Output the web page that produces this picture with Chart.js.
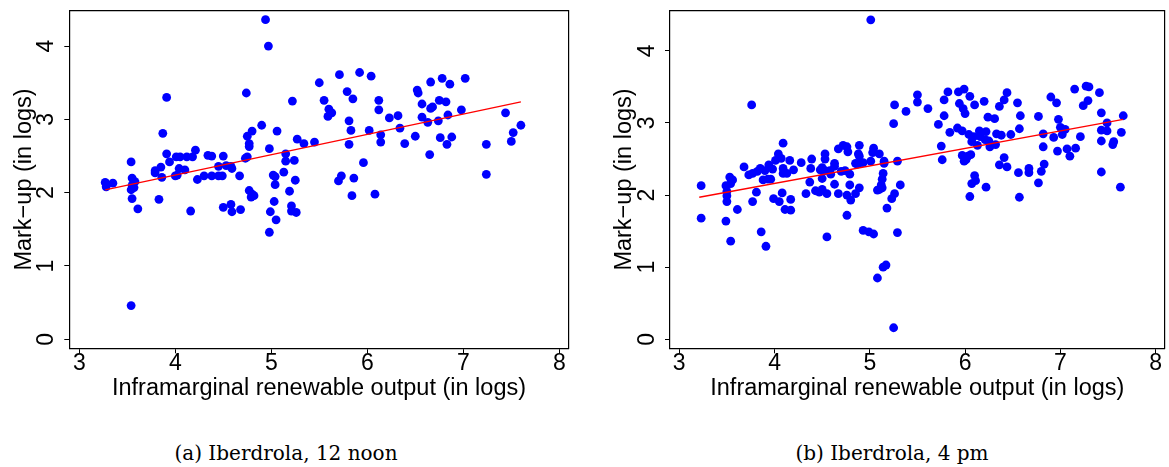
<!DOCTYPE html>
<html lang="en">
<head>
  <meta charset="UTF-8" />
  <title>Iberdrola mark-up vs inframarginal renewable output</title>
  <script src="https://cdn.jsdelivr.net/npm/chart.js"></script>
  <style>
    body { margin: 0; background: #fff; width: 1169px; height: 467px; position: relative; overflow: hidden; }
    .panel { position: absolute; top: 0; }
    .caption { position: absolute; top: 441px; width: 400px; line-height: 24px; text-align: center;
               font-family: "DejaVu Serif", serif; font-size: 20px; color: #000; }
  </style>
</head>
<body>
  <canvas id="noonChart" class="panel" style="left:0px" width="585" height="420"></canvas>
  <canvas id="pmChart" class="panel" style="left:600px" width="569" height="420"></canvas>
  <div class="caption" style="left:86px">(a) Iberdrola, 12 noon</div>
  <div class="caption" style="left:692px">(b) Iberdrola, 4 pm</div>

  <script>
    // (a) 12 noon
    const noonX = [4.94, 4.97, 5.50, 3.91, 4.74, 5.22, 4.90, 4.80, 5.06, 4.75, 3.87, 5.27, 5.34, 5.45, 4.77, 4.77,
      4.98, 4.21, 3.91, 4.01, 4.05, 4.12, 4.18, 4.34, 4.38, 4.50, 4.75, 4.73, 5.15, 5.15, 5.24, 3.54, 3.94, 3.85,
      3.79, 3.79, 4.04, 4.10, 4.45, 4.53, 4.59, 4.58, 3.86, 4.00, 4.02, 4.23, 4.30, 4.38, 4.45, 4.49, 4.67, 5.02,
      5.04, 5.13, 5.25, 5.04, 5.19, 3.27, 3.35, 3.28, 3.55, 3.58, 3.55, 3.54, 3.57, 3.55, 3.61, 3.83, 4.16, 4.50,
      4.58, 4.59, 4.68, 4.77, 4.80, 4.82, 4.79, 5.03, 4.99, 5.05, 4.98, 5.21, 5.21, 5.26, 3.54, 5.71, 5.92, 6.04,
      5.79, 5.85, 5.55, 5.60, 5.63, 5.59, 6.12, 6.12, 5.81, 5.83, 5.81, 6.02, 6.14, 6.14, 6.23, 6.32, 6.34, 6.39,
      6.50, 6.52, 6.53, 6.66, 6.78, 6.86, 7.02, 6.57, 6.66, 6.68, 6.75, 6.82, 6.57, 6.63, 6.74, 6.84, 6.98, 6.76,
      6.83, 6.88, 6.65, 5.96, 5.73, 5.70, 5.86, 5.84, 6.08, 7.24, 7.24, 7.44, 7.50, 7.52, 7.60];
    const noonY = [4.36, 4.00, 3.50, 3.30, 3.36, 3.25, 2.92, 2.84, 2.84, 2.77, 2.81, 2.73, 2.67, 2.69, 2.67, 2.63,
      2.60, 2.58, 2.53, 2.49, 2.49, 2.49, 2.49, 2.51, 2.50, 2.50, 2.49, 2.47, 2.53, 2.43, 2.44, 2.42, 2.42, 2.35,
      2.30, 2.27, 2.33, 2.31, 2.36, 2.37, 2.33, 2.36, 2.21, 2.23, 2.24, 2.18, 2.23, 2.23, 2.23, 2.23, 2.23, 2.24,
      2.22, 2.28, 2.17, 2.11, 2.02, 2.14, 2.13, 2.08, 2.20, 2.15, 2.10, 2.04, 2.07, 1.92, 1.78, 1.91, 1.75, 1.80,
      1.84, 1.74, 1.77, 2.03, 1.98, 1.96, 1.94, 1.88, 1.74, 1.63, 1.46, 1.82, 1.75, 1.73, 0.46, 3.61, 3.64, 3.59,
      3.38, 3.28, 3.26, 3.14, 3.09, 3.04, 3.26, 3.13, 2.98, 2.85, 2.66, 2.85, 2.79, 2.69, 3.02, 3.05, 2.88, 2.67,
      2.77, 3.40, 3.36, 3.51, 3.56, 3.48, 3.56, 3.21, 3.15, 3.17, 3.26, 3.24, 3.03, 2.96, 2.98, 3.06, 3.13, 2.75,
      2.66, 2.76, 2.52, 2.41, 2.23, 2.16, 2.20, 1.96, 1.98, 2.66, 2.25, 3.09, 2.70, 2.82, 2.92];
    const noonFitX = [3.27, 7.60];
    const noonFitY = [2.04, 3.24];

    // (b) 4 pm
    const pmX = [5.01, 3.76, 5.26, 5.38, 5.25, 5.50, 5.50, 4.09, 4.04, 4.07, 4.01, 4.16, 4.28, 4.39, 4.53, 4.53,
      4.67, 4.72, 4.76, 4.77, 4.89, 4.88, 4.89, 5.04, 5.03, 5.10, 4.85, 4.90, 4.87, 4.93, 5.01, 5.15, 5.15, 5.29,
      3.68, 3.73, 3.77, 3.82, 3.85, 3.90, 3.94, 3.98, 3.88, 3.93, 3.96, 4.09, 4.09, 4.13, 4.20, 4.38, 4.48, 4.50,
      4.53, 4.59, 4.58, 4.63, 4.63, 4.50, 4.70, 4.74, 4.79, 4.37, 4.63, 4.79, 4.89, 5.14, 5.13, 5.12, 5.13, 5.10,
      5.08, 5.32, 3.23, 3.53, 3.56, 3.54, 3.49, 3.50, 3.50, 3.81, 4.08, 4.33, 4.43, 4.47, 4.50, 4.55, 4.67, 4.76,
      4.85, 5.26, 5.23, 3.50, 3.77, 3.99, 3.61, 4.05, 4.11, 4.17, 4.17, 4.80, 4.76, 4.93, 4.99, 5.04, 4.55, 3.86,
      3.54, 3.23, 3.49, 3.91, 5.18, 5.29, 5.17, 5.14, 5.08, 5.25, 5.82, 5.78, 5.93, 5.99, 6.05, 5.94, 5.98, 6.00,
      6.10, 6.20, 6.44, 6.41, 6.36, 6.55, 5.61, 5.78, 5.72, 5.84, 5.92, 5.97, 6.04, 6.09, 6.15, 6.22, 6.16, 6.21,
      6.25, 6.26, 6.33, 6.38, 6.32, 6.07, 6.13, 6.06, 5.75, 5.76, 5.97, 6.03, 5.99, 6.01, 6.24, 6.31, 6.58, 6.48,
      6.57, 6.41, 6.36, 6.44, 6.56, 6.67, 6.67, 6.77, 6.90, 6.96, 7.15, 7.27, 7.30, 7.41, 7.29, 7.24, 7.43, 7.66,
      6.98, 7.00, 7.05, 6.82, 6.93, 7.02, 7.21, 6.82, 6.97, 7.07, 7.10, 7.16, 7.43, 7.49, 7.49, 7.43, 7.56, 7.55,
      7.64, 6.83, 6.80, 6.77, 7.43, 7.63, 6.10, 6.07, 6.11, 6.22, 6.05, 6.57];
    const pmY = [4.43, 3.25, 3.25, 3.16, 2.99, 3.39, 3.29, 2.72, 2.57, 2.51, 2.48, 2.48, 2.45, 2.50, 2.57, 2.50,
      2.64, 2.69, 2.67, 2.60, 2.69, 2.57, 2.54, 2.65, 2.59, 2.57, 2.44, 2.45, 2.43, 2.45, 2.47, 2.47, 2.44, 2.47,
      2.39, 2.28, 2.30, 2.33, 2.37, 2.34, 2.42, 2.36, 2.21, 2.22, 2.22, 2.37, 2.30, 2.30, 2.35, 2.37, 2.35, 2.38,
      2.34, 2.29, 2.34, 2.44, 2.40, 2.23, 2.33, 2.34, 2.29, 2.18, 2.15, 2.14, 2.10, 2.30, 2.22, 2.14, 2.10, 2.08,
      2.07, 2.14, 2.13, 2.25, 2.21, 2.16, 2.13, 2.05, 1.99, 2.04, 2.03, 2.02, 2.06, 2.04, 2.08, 2.02, 2.02, 2.00,
      2.02, 2.02, 1.95, 1.91, 1.91, 1.95, 1.80, 1.91, 1.80, 1.79, 1.94, 1.93, 1.72, 1.51, 1.49, 1.46, 1.42, 1.49,
      1.36, 1.68, 1.64, 1.29, 1.82, 1.48, 1.03, 1.00, 0.85, 0.16, 3.43, 3.32, 3.43, 3.47, 3.37, 3.27, 3.20, 3.13,
      3.25, 3.30, 3.42, 3.32, 3.23, 3.28, 3.20, 3.10, 2.98, 2.87, 2.93, 2.89, 2.84, 2.81, 2.89, 2.88, 2.81, 2.77,
      2.75, 2.67, 2.85, 2.83, 2.70, 2.74, 2.69, 2.56, 2.68, 2.49, 2.55, 2.54, 2.47, 2.49, 3.08, 3.06, 3.10, 2.84,
      2.92, 2.52, 2.42, 2.39, 2.31, 2.37, 2.31, 3.09, 3.36, 3.28, 3.47, 3.51, 3.50, 3.42, 3.31, 3.24, 3.14, 3.10,
      3.05, 2.94, 2.91, 2.85, 2.80, 2.84, 2.81, 2.67, 2.61, 2.64, 2.54, 2.65, 2.90, 3.00, 2.89, 2.75, 2.74, 2.70,
      2.87, 2.43, 2.33, 2.17, 2.32, 2.11, 2.27, 2.16, 2.20, 2.11, 1.98, 1.97];
    const pmFitX = [3.21, 7.66];
    const pmFitY = [1.97, 3.05];

    const xTitle = 'Inframarginal renewable output (in logs)';
    const yTitle = 'Mark\u2212up (in logs)';

    const sans = 'Liberation Sans';
    const axisLine = { display: true, color: '#000', width: 1.2 };
    const tickMarks = { display: true, drawOnChartArea: false, drawTicks: true, tickLength: 5, color: '#000', lineWidth: 1 };

    const makePanel = (id, xs, ys, fitX, fitY, xRange, yRange, yAxisWidth, padRight, yTitlePad) => {
      const points = xs.map((x, i) => ({ x, y: ys[i] }));
      const fit = fitX.map((x, i) => ({ x, y: fitY[i] }));
      new Chart(document.getElementById(id), {
        type: 'scatter',
        data: {
          datasets: [
            { data: fit, showLine: true, borderColor: '#ff0000', borderWidth: 1.3, pointRadius: 0, order: 0 },
            { data: points, backgroundColor: '#0000ff', borderWidth: 0, pointRadius: 4.4, order: 1 }
          ]
        },
        options: {
          responsive: false,
          animation: false,
          devicePixelRatio: 1,
          layout: { padding: { top: 10.7, right: padRight, bottom: 0, left: 0 } },
          plugins: { legend: { display: false }, tooltip: { enabled: false } },
          scales: {
            x: {
              type: 'linear', position: 'bottom', min: xRange[0], max: xRange[1],
              afterFit: s => { s.height = 71.7; s.paddingLeft = 0; s.paddingRight = 0; },
              ticks: { stepSize: 1, includeBounds: false, maxRotation: 0, color: '#000', padding: -3,
                       font: { family: sans, size: 23 } },
              grid: tickMarks,
              border: axisLine,
              title: { display: true, text: xTitle, color: '#000', font: { family: sans, size: 23.5 },
                       padding: { top: 0, bottom: 17 } }
            },
            y: {
              type: 'linear', position: 'left', min: yRange[0], max: yRange[1],
              // rotated labels sit 13px off the axis; keep that from pushing the plot box down
              afterFit: s => { s.width = yAxisWidth; s.paddingTop = 0; s.paddingBottom = 0; },
              ticks: { stepSize: 1, includeBounds: false, minRotation: 90, maxRotation: 90, crossAlign: 'center',
                       color: '#000', padding: 11, font: { family: sans, size: 23 } },
              grid: tickMarks,
              border: axisLine,
              title: { display: true, text: yTitle, color: '#000', font: { family: sans, size: 23.5 },
                       padding: { top: yTitlePad, bottom: 0 } }
            },
            xTop: {
              type: 'linear', position: 'top', min: xRange[0], max: xRange[1], display: true,
              afterFit: s => { s.height = 0; },
              ticks: { display: false }, grid: { display: false }, border: axisLine
            },
            yRight: {
              type: 'linear', position: 'right', min: yRange[0], max: yRange[1], display: true,
              afterFit: s => { s.width = 0; },
              ticks: { display: false }, grid: { display: false }, border: axisLine
            }
          }
        }
      });
    };

    makePanel('noonChart', noonX, noonY, noonFitX, noonFitY, [2.896, 8.098], [-0.123, 4.483], 69.3, 16.3, 10);
    makePanel('pmChart', pmX, pmY, pmFitX, pmFitY, [2.903, 8.094], [-0.125, 4.557], 70, 0.7, 10.6);
  </script>
</body>
</html>
